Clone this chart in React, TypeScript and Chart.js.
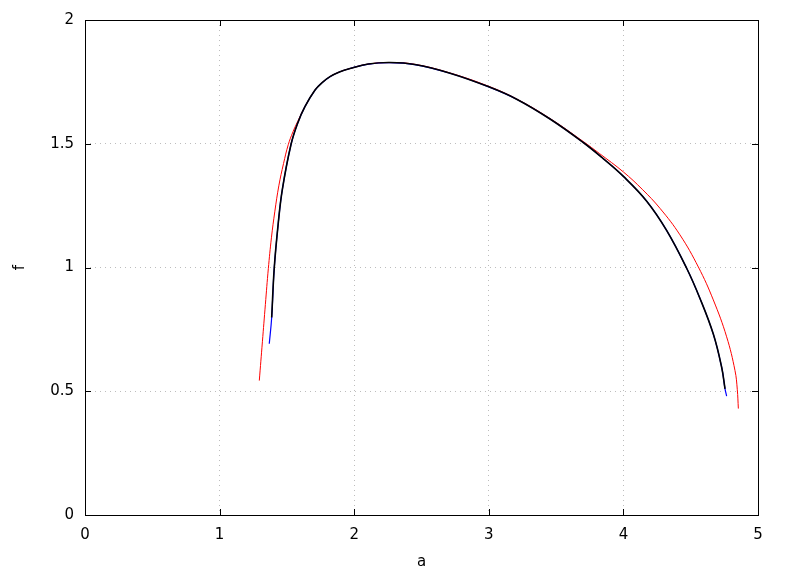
import React, { useEffect, useRef } from "react";
import { Chart, registerables } from "chart.js";

Chart.register(...registerables);

const xTicks = [0, 1, 2, 3, 4, 5];
const yTicks = [0, 0.5, 1, 1.5, 2];

const redA = [1.295, 1.318, 1.340, 1.362, 1.385, 1.410, 1.440, 1.475, 1.510, 1.545, 1.580, 1.634, 1.709, 1.760, 1.820, 1.890, 1.969, 2.105, 2.266, 2.450, 2.712, 3.000, 3.207, 3.455, 3.702, 3.821, 4.000, 4.140, 4.272, 4.420, 4.557, 4.668, 4.767, 4.829, 4.846, 4.854];
const redF = [0.543, 0.700, 0.850, 0.995, 1.120, 1.225, 1.330, 1.420, 1.496, 1.548, 1.590, 1.650, 1.717, 1.746, 1.771, 1.790, 1.804, 1.822, 1.828, 1.821, 1.786, 1.732, 1.681, 1.602, 1.509, 1.461, 1.386, 1.316, 1.239, 1.132, 1.002, 0.869, 0.720, 0.584, 0.508, 0.430];

const blueA = [1.369, 1.387, 1.406, 1.436, 1.466, 1.530, 1.580, 1.634, 1.709, 1.760, 1.820, 1.890, 1.969, 2.105, 2.266, 2.450, 2.712, 3.000, 3.207, 3.455, 3.702, 3.850, 4.000, 4.173, 4.321, 4.470, 4.569, 4.668, 4.730, 4.755, 4.767];
const blueF = [0.692, 0.798, 0.998, 1.180, 1.315, 1.496, 1.583, 1.650, 1.717, 1.746, 1.771, 1.790, 1.804, 1.822, 1.828, 1.820, 1.785, 1.730, 1.680, 1.600, 1.505, 1.440, 1.368, 1.268, 1.150, 0.997, 0.875, 0.731, 0.597, 0.510, 0.480];

const blackA = [1.387, 1.406, 1.436, 1.466, 1.530, 1.580, 1.634, 1.709, 1.760, 1.820, 1.890, 1.969, 2.105, 2.266, 2.450, 2.712, 3.000, 3.207, 3.455, 3.702, 3.850, 4.000, 4.173, 4.321, 4.470, 4.569, 4.668, 4.730, 4.755];
const blackF = [0.798, 0.998, 1.180, 1.315, 1.496, 1.583, 1.650, 1.717, 1.746, 1.771, 1.790, 1.804, 1.822, 1.828, 1.820, 1.785, 1.730, 1.680, 1.600, 1.505, 1.440, 1.368, 1.268, 1.150, 0.997, 0.875, 0.731, 0.597, 0.510];

const toPts = (xs: number[], ys: number[]) => xs.map((x, i) => ({ x, y: ys[i] }));

const FONT = "'DejaVu Sans', sans-serif";

const framePlugin = {
  id: "frameTicks",
  afterDraw(chart: any) {
    const { ctx, chartArea } = chart;
    const { left, right, top, bottom } = chartArea;
    const xs = chart.scales.x;
    const ys = chart.scales.y;
    const L = 6;
    ctx.save();
    ctx.strokeStyle = "#000";
    ctx.lineWidth = 1;
    ctx.beginPath();
    xTicks.forEach((v) => {
      const px = Math.round(xs.getPixelForValue(v)) + 0.5;
      ctx.moveTo(px, bottom);
      ctx.lineTo(px, bottom - L);
      ctx.moveTo(px, top);
      ctx.lineTo(px, top + L);
    });
    yTicks.forEach((v) => {
      const py = Math.round(ys.getPixelForValue(v)) + 0.5;
      ctx.moveTo(left, py);
      ctx.lineTo(left + L, py);
      ctx.moveTo(right, py);
      ctx.lineTo(right - L, py);
    });
    ctx.stroke();
    ctx.strokeRect(Math.round(left) + 0.5, Math.round(top) + 0.5, Math.round(right - left), Math.round(bottom - top));
    ctx.restore();
  },
};

export default function App() {
  const ref = useRef<HTMLCanvasElement | null>(null);
  useEffect(() => {
    if (!ref.current) return;
    const line = (data: any, color: string, width: number, order: number, label: string) => ({
      label,
      data,
      showLine: true,
      borderColor: color,
      backgroundColor: color,
      borderWidth: width,
      pointRadius: 0,
      tension: 0.4,
      fill: false,
      order,
    });
    const chart = new Chart(ref.current, {
      type: "scatter",
      data: {
        datasets: [
          line(toPts(blackA, blackF), "#000000", 1.6, 0, "black"),
          line(toPts(blueA, blueF), "#0000ff", 1.2, 1, "blue"),
          line(toPts(redA, redF), "#ff0000", 1, 2, "red"),
        ],
      },
      options: {
        animation: false,
        responsive: false,
        maintainAspectRatio: false,
        layout: { padding: { left: 0, top: 18, right: 30, bottom: 0 } },
        plugins: { legend: { display: false }, tooltip: { enabled: false } },
        scales: {
          x: {
            type: "linear",
            min: 0,
            max: 5,
            afterFit: (s: any) => { s.height = 61; },
            afterBuildTicks: (s: any) => { s.ticks = xTicks.map((v) => ({ value: v })); },
            ticks: { color: "#000", font: { family: FONT, size: 15 }, padding: 11, callback: (v: any) => String(v) },
            grid: { drawTicks: false, color: "#bdbdbd", lineWidth: 1 },
            border: { display: false, dash: [1, 4] },
            title: { display: true, text: "a", color: "#000", font: { family: FONT, size: 15 }, padding: { top: 0, bottom: 5 } },
          },
          y: {
            type: "linear",
            min: 0,
            max: 2,
            afterFit: (s: any) => { s.width = 85; },
            afterBuildTicks: (s: any) => { s.ticks = yTicks.map((v) => ({ value: v })); },
            ticks: { color: "#000", font: { family: FONT, size: 15 }, padding: 11, callback: (v: any) => String(v) },
            grid: { drawTicks: false, color: "#bdbdbd", lineWidth: 1 },
            border: { display: false, dash: [1, 4] },
            title: { display: true, text: "f", color: "#000", font: { family: FONT, size: 15 }, padding: { top: 11, bottom: 0 } },
          },
        },
      },
      plugins: [framePlugin],
    });
    return () => chart.destroy();
  }, []);
  return (
    <div style={{ position: "absolute", left: 0, top: 0, width: 788, height: 576, background: "#fff" }}>
      <canvas ref={ref} width={788} height={576} style={{ width: 788, height: 576, display: "block" }} />
    </div>
  );
}
